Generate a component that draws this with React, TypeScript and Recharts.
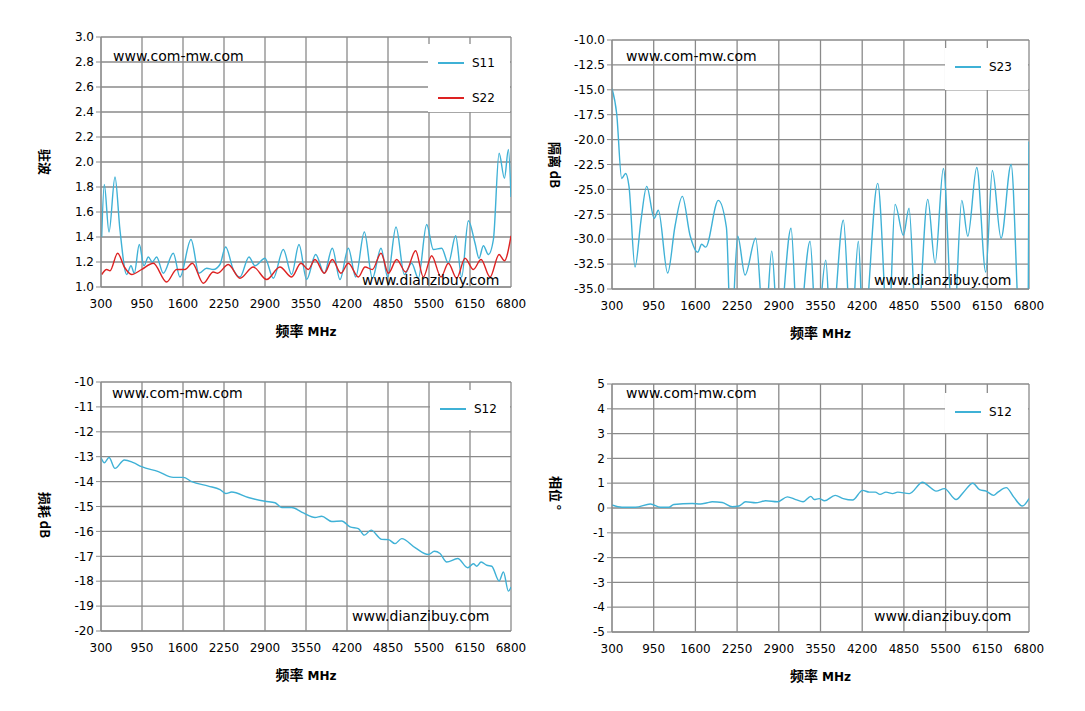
import React from 'react';
import { LineChart, Line, XAxis, YAxis, CartesianGrid } from 'recharts';

const X_TICKS = [300, 950, 1600, 2250, 2900, 3550, 4200, 4850, 5500, 6150, 6800];

const S11_F = [311, 352, 427, 522, 600, 707, 775, 828, 907, 981, 1050, 1113, 1182, 1288, 1446, 1552, 1727, 1853, 1975, 2080, 2186, 2276, 2397, 2503, 2646, 2741, 2900, 3032, 3190, 3322, 3439, 3560, 3703, 3840, 3967, 4089, 4221, 4338, 4475, 4602, 4739, 4845, 4977, 5109, 5225, 5331, 5463, 5569, 5701, 5807, 5923, 6018, 6124, 6230, 6293, 6362, 6442, 6521, 6611, 6696, 6759, 6800];
const S11_V = [1.40, 1.82, 1.44, 1.88, 1.46, 1.10, 1.17, 1.11, 1.34, 1.17, 1.24, 1.20, 1.24, 1.11, 1.27, 1.08, 1.38, 1.11, 1.15, 1.14, 1.18, 1.32, 1.14, 1.08, 1.24, 1.17, 1.23, 1.07, 1.30, 1.10, 1.34, 1.06, 1.26, 1.11, 1.31, 1.06, 1.31, 1.08, 1.44, 1.07, 1.31, 1.08, 1.48, 1.10, 1.19, 1.07, 1.50, 1.30, 1.31, 1.19, 1.41, 1.08, 1.53, 1.35, 1.23, 1.33, 1.26, 1.38, 2.07, 1.87, 2.10, 1.72];

const S22_F = [311, 390, 443, 564, 670, 786, 944, 1129, 1340, 1499, 1631, 1748, 1922, 2080, 2149, 2318, 2503, 2715, 2926, 3137, 3322, 3470, 3587, 3692, 3840, 3967, 4104, 4221, 4380, 4486, 4602, 4739, 4856, 4988, 5130, 5288, 5410, 5542, 5690, 5807, 5939, 6071, 6203, 6325, 6468, 6611, 6696, 6800];
const S22_V = [1.10, 1.14, 1.13, 1.27, 1.16, 1.10, 1.14, 1.19, 1.04, 1.14, 1.14, 1.19, 1.03, 1.12, 1.11, 1.18, 1.07, 1.16, 1.06, 1.16, 1.08, 1.19, 1.14, 1.22, 1.11, 1.22, 1.11, 1.19, 1.08, 1.16, 1.14, 1.27, 1.11, 1.22, 1.12, 1.29, 1.08, 1.25, 1.08, 1.19, 1.07, 1.23, 1.14, 1.22, 1.08, 1.26, 1.21, 1.41];

const S23_F = [300, 373, 451, 513, 565, 659, 752, 841, 959, 1022, 1168, 1282, 1396, 1516, 1636, 1698, 1760, 1957, 2083, 2155, 2260, 2374, 2540, 2679, 2790, 2894, 3091, 3198, 3387, 3490, 3632, 3714, 3906, 4028, 4140, 4218, 4442, 4608, 4712, 4842, 4930, 5050, 5222, 5336, 5465, 5621, 5752, 5846, 5986, 6126, 6229, 6365, 6521, 6665, 6785, 6800];
const S23_V = [-14.9, -17.4, -23.9, -23.4, -24.7, -32.8, -28.1, -24.7, -27.9, -27.1, -33.4, -28.7, -25.7, -29.6, -31.3, -30.5, -30.8, -26.1, -28.8, -40, -29.7, -33.6, -29.9, -40, -31.2, -40, -28.9, -40, -30.2, -40, -32.1, -40, -28.1, -40, -30.2, -40, -24.4, -40, -26.5, -29.6, -26.9, -40, -26.0, -32.4, -22.9, -40, -26.1, -29.7, -22.8, -33.3, -23.1, -29.9, -22.5, -40, -40, -20.2];

const S12_F = [300, 353, 427, 522, 670, 813, 945, 1209, 1447, 1605, 1738, 2002, 2187, 2277, 2372, 2636, 2900, 3059, 3165, 3323, 3508, 3693, 3799, 3957, 4116, 4248, 4380, 4475, 4581, 4750, 4856, 4961, 5067, 5279, 5490, 5585, 5675, 5781, 5955, 6115, 6204, 6257, 6326, 6416, 6495, 6611, 6680, 6759, 6800];
const S12_V = [-13.03, -13.24, -13.03, -13.47, -13.13, -13.24, -13.40, -13.60, -13.83, -13.83, -14.0, -14.18, -14.32, -14.48, -14.42, -14.64, -14.79, -14.85, -15.04, -15.04, -15.26, -15.44, -15.39, -15.60, -15.58, -15.82, -15.89, -16.15, -15.95, -16.32, -16.33, -16.49, -16.29, -16.65, -16.93, -16.80, -16.89, -17.23, -17.09, -17.46, -17.30, -17.40, -17.23, -17.36, -17.40, -17.99, -17.63, -18.40, -18.23];

const PH_F = [300, 456, 665, 899, 1055, 1185, 1263, 1550, 1680, 1784, 1862, 2018, 2175, 2279, 2383, 2539, 2696, 2878, 3034, 3164, 3279, 3399, 3451, 3529, 3612, 3779, 3904, 4050, 4206, 4310, 4404, 4477, 4571, 4675, 4753, 4935, 5143, 5222, 5352, 5482, 5664, 5779, 5925, 6029, 6133, 6248, 6316, 6446, 6560, 6696, 6800];
const PH_V = [0.12, 0.03, 0.03, 0.16, 0.03, 0.03, 0.14, 0.18, 0.16, 0.21, 0.25, 0.22, 0.05, 0.08, 0.25, 0.21, 0.29, 0.25, 0.45, 0.34, 0.25, 0.47, 0.34, 0.38, 0.29, 0.51, 0.38, 0.32, 0.71, 0.64, 0.64, 0.55, 0.64, 0.58, 0.64, 0.58, 1.04, 0.91, 0.68, 0.78, 0.34, 0.64, 1.0, 0.74, 0.68, 0.51, 0.64, 0.82, 0.45, 0.08, 0.38];

const TICKS_VSWR = [1.0, 1.2, 1.4, 1.6, 1.8, 2.0, 2.2, 2.4, 2.6, 2.8, 3.0];
const TICKS_ISO = [-35, -32.5, -30, -27.5, -25, -22.5, -20, -17.5, -15, -12.5, -10];
const TICKS_LOSS = [-20, -19, -18, -17, -16, -15, -14, -13, -12, -11, -10];
const TICKS_PHASE = [-5, -4, -3, -2, -1, 0, 1, 2, 3, 4, 5];

const BLUE = '#3fb1d6';
const RED = '#dd2222';
const FONT = '"DejaVu Sans", Verdana, sans-serif';
const CJK = '"Noto Sans CJK SC", sans-serif';

const zip = (f: number[], v: number[]) => f.map((x, i) => ({ f: x, v: v[i] }));

type Series = { name: string; f: number[]; v: number[]; color: string };

function Panel(props: {
  x0: number; y0: number; x1: number; y1: number;
  domain: [number, number]; ticks: number[]; fmt: (v: number) => string;
  series: Series[]; ylabel: string; ylx: number; yly: number;
  legend: { x: number; y: number; w: number; h: number };
  wm1: [number, number]; wm2: [number, number];
}) {
  const { x0, y0, x1, y1 } = props;
  const left = x0 - 100, top = y0 - 10;
  const W = x1 - x0 + 120, H = y1 - y0 + 65;
  const lg = props.legend;
  return (
    <>
      <div style={{ position: 'absolute', left, top }}>
        <LineChart width={W} height={H} margin={{ top: 10, right: 20, left: 0, bottom: 30 }}>
          <CartesianGrid stroke="#8a8a8a" strokeWidth={1.3} horizontal vertical />
          <XAxis dataKey="f" type="number" domain={[300, 6800]} ticks={X_TICKS} allowDataOverflow
            height={25} interval={0} stroke="#8a8a8a" tickLine={false}
            tick={{ fill: '#000', fontSize: 12, fontFamily: FONT }} tickMargin={6} />
          <YAxis type="number" domain={props.domain} ticks={props.ticks} allowDataOverflow width={100}
            interval={0} stroke="#8a8a8a" tickSize={5} tickFormatter={props.fmt}
            tick={{ fill: '#000', fontSize: 12, fontFamily: FONT }} />
          {props.series.map((s) => (
            <Line key={s.name} data={zip(s.f, s.v)} dataKey="v" type="monotone" stroke={s.color}
              strokeWidth={1.4} dot={false} isAnimationActive={false} />
          ))}
        </LineChart>
      </div>
      <div style={{ position: 'absolute', left: lg.x, top: lg.y, width: lg.w, height: lg.h, background: '#fff' }}>
        {props.series.map((s, i) => (
          <div key={s.name} style={{ position: 'absolute', left: 10, top: 12 + i * 35, display: 'flex', alignItems: 'center' }}>
            <div style={{ width: 26, height: 1.5, background: s.color }} />
            <span style={{ marginLeft: 8, fontFamily: FONT, fontSize: 12 }}>{s.name}</span>
          </div>
        ))}
      </div>
      <div style={{ position: 'absolute', left: props.wm1[0], top: props.wm1[1], fontFamily: FONT, fontSize: 14, background: 'transparent' }}>www.com-mw.com</div>
      <div style={{ position: 'absolute', left: props.wm2[0], top: props.wm2[1], fontFamily: FONT, fontSize: 14 }}>www.dianzibuy.com</div>
      <div style={{ position: 'absolute', left: props.ylx - 40, top: props.yly - 10, width: 80, textAlign: 'center', transform: 'rotate(90deg)', fontFamily: CJK, fontWeight: 700, fontSize: 13, lineHeight: '20px' }}>{props.ylabel}</div>
      <div style={{ position: 'absolute', left: (x0 + x1) / 2 - 60, top: y1 + 33, width: 120, textAlign: 'center', fontWeight: 700 }}>
        <span style={{ fontFamily: CJK, fontSize: 14 }}>频率</span>
        <span style={{ fontFamily: FONT, fontSize: 12 }}> MHz</span>
      </div>
    </>
  );
}

export default function App() {
  return (
    <div style={{ position: 'absolute', left: 0, top: 0, width: 1085, height: 711, background: '#fff' }}>
      <Panel x0={101} y0={37} x1={511} y1={287} domain={[1, 3]} ticks={TICKS_VSWR} fmt={(v) => v.toFixed(1)}
        series={[{ name: 'S11', f: S11_F, v: S11_V, color: BLUE }, { name: 'S22', f: S22_F, v: S22_V, color: RED }]}
        ylabel="驻波" ylx={45} yly={162} legend={{ x: 428, y: 44, w: 82, h: 68 }} wm1={[113, 48]} wm2={[362, 272]} />
      <Panel x0={612} y0={40} x1={1029} y1={289} domain={[-35, -10]} ticks={TICKS_ISO} fmt={(v) => v.toFixed(1)}
        series={[{ name: 'S23', f: S23_F, v: S23_V, color: BLUE }]}
        ylabel="隔离 dB" ylx={555} yly={165} legend={{ x: 945, y: 48, w: 83, h: 42 }} wm1={[626, 48]} wm2={[874, 272]} />
      <Panel x0={101} y0={382} x1={511} y1={631} domain={[-20, -10]} ticks={TICKS_LOSS} fmt={(v) => String(v)}
        series={[{ name: 'S12', f: S12_F, v: S12_V, color: BLUE }]}
        ylabel="损耗 dB" ylx={45} yly={515} legend={{ x: 430, y: 390, w: 80, h: 40 }} wm1={[112, 385]} wm2={[352, 608]} />
      <Panel x0={612} y0={384} x1={1029} y1={632} domain={[-5, 5]} ticks={TICKS_PHASE} fmt={(v) => String(v)}
        series={[{ name: 'S12', f: PH_F, v: PH_V, color: BLUE }]}
        ylabel="相位 °" ylx={556} yly={493} legend={{ x: 945, y: 393, w: 83, h: 40 }} wm1={[626, 385]} wm2={[874, 608]} />
    </div>
  );
}
